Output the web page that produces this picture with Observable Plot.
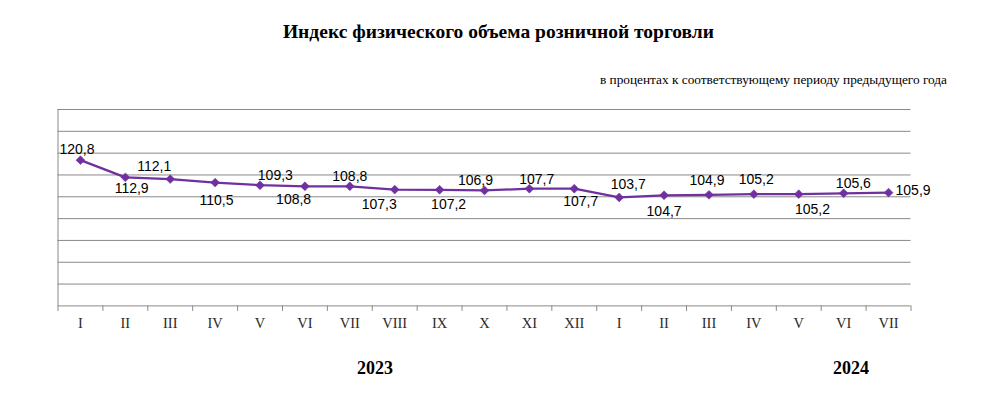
<!DOCTYPE html>
<html>
<head>
<meta charset="utf-8">
<script src="https://cdn.jsdelivr.net/npm/d3@7"></script>
<script src="https://cdn.jsdelivr.net/npm/@observablehq/plot@0.6"></script>
<style>
  html, body { margin: 0; padding: 0; background: #fff; }
  #wrap { position: relative; width: 999px; height: 393px; overflow: hidden; }
  .t { position: absolute; white-space: nowrap; font-family: "Liberation Serif", "Times New Roman", serif; color: #000; }
  #title { left: 0; width: 997px; text-align: center; top: 22px; font-size: 19.5px; line-height: 20px; font-weight: bold; }
  #subtitle { right: 52px; top: 72px; font-size: 13.3px; line-height: 15px; }
  .year { width: 100px; text-align: center; top: 359px; font-size: 18px; line-height: 18px; font-weight: bold; }
  #chart { position: absolute; left: 0; top: 90px; }
</style>
</head>
<body>
<div id="wrap">
  <div class="t" id="title"></div>
  <div class="t" id="subtitle"></div>
  <div class="t year" id="y2023"></div>
  <div class="t year" id="y2024"></div>
  <div id="chart"></div>
</div>
<script>
// ---- data ----
const titleText = "Индекс физического объема розничной торговли";
const subtitleText = "в процентах к соответствующему периоду предыдущего года";
const months = ["I","II","III","IV","V","VI","VII","VIII","IX","X","XI","XII","I","II","III","IV","V","VI","VII"];
const yearLabels = ["2023", "2024"];
const values = [120.8, 112.9, 112.1, 110.5, 109.3, 108.8, 108.8, 107.3, 107.2, 106.9, 107.7, 107.7, 103.7, 104.7, 104.9, 105.2, 105.2, 105.6, 105.9];

// ---- layout (label nudges, in px, relative to each point) ----
const labelDx = [-3.5, 6.3, -16, 1.3, 15.3, -11.3, 0, -15.5, 9, -9, 7.3, 6.4, 9, 0, -2, 2.3, 13.7, 9.7, 7];
const labelDy = [-10.7, 11.6, -13, 18.3, -10, 13.6, -9.3, 15, 14.6, -10.3, -9.3, 13, -13, 16.7, -14, -14.4, 15.3, -10, -1.7];
const labelAnchor = months.map((_, i) => i === months.length - 1 ? "start" : "middle");

document.getElementById("title").textContent = titleText;
document.getElementById("subtitle").textContent = subtitleText;
const y23 = document.getElementById("y2023");
const y24 = document.getElementById("y2024");
y23.textContent = yearLabels[0]; y23.style.left = (375 - 50) + "px";
y24.textContent = yearLabels[1]; y24.style.left = (851 - 50) + "px";

const fmt = v => v.toFixed(1).replace(".", ",");
const purple = "#7030a0";
const gridColor = "#898989";
const idx = months.map((_, i) => i);

const labelMarks = idx.map(i => Plot.text([i], {
  x: d => d + 0.5,
  y: d => values[d],
  text: d => fmt(values[d]),
  dx: labelDx[i],
  dy: labelDy[i],
  textAnchor: labelAnchor[i],
  fontFamily: "Liberation Sans, Arial, sans-serif",
  fontSize: 14,
  fill: "#000"
}));

const chart = Plot.plot({
  width: 999,
  height: 250,
  marginLeft: 57.5,
  marginRight: 88.5,
  marginTop: 19,
  marginBottom: 34.6,
  x: { type: "linear", domain: [0, months.length], axis: null },
  y: { domain: [54, 144], axis: null },
  marks: [
    Plot.ruleY(d3.range(54, 145, 10), { stroke: gridColor, strokeWidth: 1 }),
    Plot.ruleX([0], { y1: 54, y2: 144, stroke: gridColor }),
    Plot.axisX({ ticks: d3.range(0, months.length + 1), tickSize: 5.5, tickFormat: () => "", stroke: gridColor }),
    Plot.text(idx, {
      x: d => d + 0.5,
      frameAnchor: "bottom",
      dy: 21.6,
      text: d => months[d],
      fontFamily: "Liberation Serif, Times New Roman, serif",
      fontSize: 14.5,
      fill: "#2b2b2b"
    }),
    Plot.line(idx, { x: d => d + 0.5, y: d => values[d], stroke: purple, strokeWidth: 2.25 }),
    Plot.dot(idx, { x: d => d + 0.5, y: d => values[d], symbol: "diamond2", r: 4, fill: purple, stroke: purple, strokeWidth: 0.5 }),
    ...labelMarks
  ],
  style: { background: "transparent", overflow: "visible" }
});
document.getElementById("chart").appendChild(chart);
</script>
</body>
</html>
